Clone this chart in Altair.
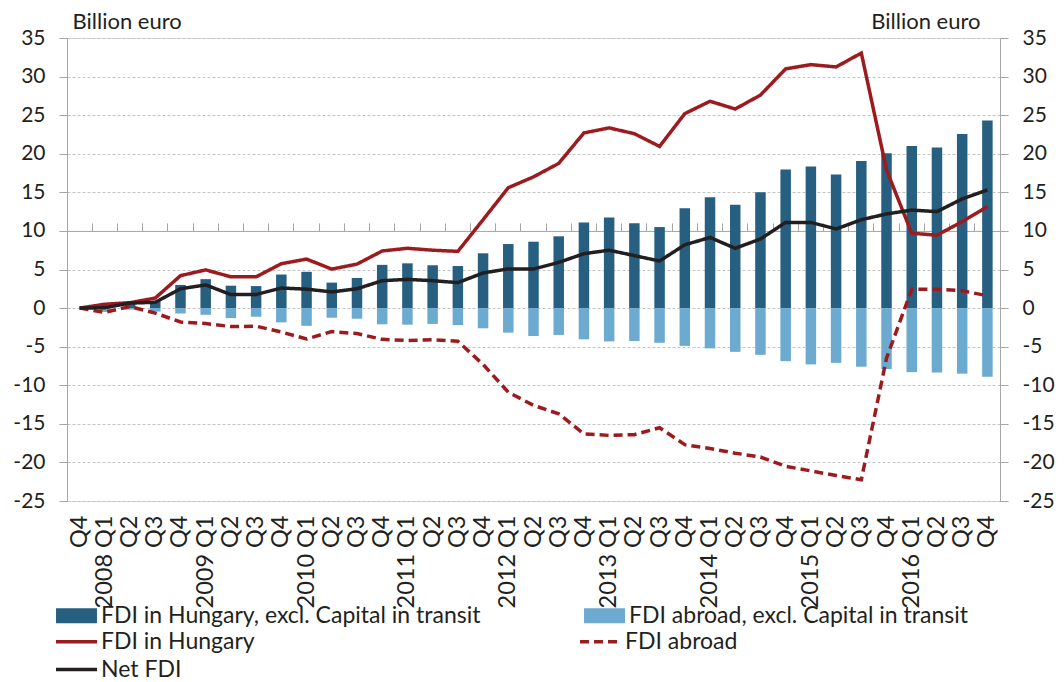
import altair as alt
import pandas as pd

FONT = "Lato"
TXT = "#231F20"
AX = "#A6A6A6"
DARK = "#265F80"
LIGHT = "#6DAACF"
RED = "#9C1B1F"
BLACK = "#231F20"

# categories: 2007 Q4 followed by 2008 Q1 ... 2016 Q4
years = [2008, 2009, 2010, 2011, 2012, 2013, 2014, 2015, 2016]
qs = ["Q1", "Q2", "Q3", "Q4"]
quarters = ["2007 Q4"] + [f"{y} {q}" for y in years for q in qs]

fdi_hu_excl = [0, 0.2, 0.6, 0.9, 3.0, 3.75, 2.9, 2.85, 4.35, 4.7, 3.3, 3.9, 5.6, 5.8, 5.55, 5.45,
               7.1, 8.3, 8.6, 9.3, 11.1, 11.75, 11.0, 10.5, 12.95, 14.35, 13.4, 15.0, 17.95, 18.35,
               17.3, 19.05, 20.05, 21.0, 20.8, 22.55, 24.3]
fdi_abroad_excl = [0, -0.5, -0.2, -0.45, -0.7, -0.87, -1.3, -1.12, -1.85, -2.3, -1.25, -1.38, -2.1,
                   -2.15, -2.05, -2.2, -2.62, -3.18, -3.62, -3.48, -4.05, -4.32, -4.26, -4.5, -4.9,
                   -5.22, -5.67, -6.06, -6.88, -7.3, -7.1, -7.6, -7.9, -8.3, -8.35, -8.5, -8.9]
fdi_hu = [0, 0.5, 0.7, 1.3, 4.2, 4.95, 4.05, 4.05, 5.75, 6.35, 5.05, 5.7, 7.4, 7.75, 7.5, 7.35,
          11.45, 15.6, 17.0, 18.75, 22.7, 23.35, 22.6, 20.95, 25.2, 26.8, 25.8, 27.6, 31.0, 31.55,
          31.25, 33.05, 17.9, 9.7, 9.45, 11.2, 13.15]
fdi_abroad = [0, -0.55, 0.2, -0.65, -1.8, -2.0, -2.4, -2.35, -3.1, -4.0, -3.05, -3.3, -4.05, -4.2,
              -4.1, -4.3, -7.3, -10.9, -12.6, -13.7, -16.3, -16.5, -16.4, -15.5, -17.7, -18.2,
              -18.8, -19.3, -20.5, -21.1, -21.7, -22.25, -6.5, 2.45, 2.45, 2.25, 1.6]
net_fdi = [0, 0.05, 0.65, 0.75, 2.5, 3.0, 1.75, 1.75, 2.6, 2.45, 2.1, 2.5, 3.55, 3.72, 3.55, 3.3,
           4.55, 5.08, 5.06, 5.92, 7.05, 7.5, 6.8, 6.1, 8.2, 9.15, 7.75, 8.95, 11.1, 11.1, 10.25,
           11.45, 12.2, 12.7, 12.5, 14.15, 15.3]

bar_names = ["FDI in Hungary, excl. Capital in transit", "FDI abroad, excl. Capital in transit"]
line_names = ["FDI in Hungary", "FDI abroad", "Net FDI"]

df_bars = pd.concat([
    pd.DataFrame({"key": quarters, "series": bar_names[0], "value": fdi_hu_excl}),
    pd.DataFrame({"key": quarters, "series": bar_names[1], "value": fdi_abroad_excl}),
])
df_lines = pd.concat([
    pd.DataFrame({"key": quarters, "series": line_names[0], "value": fdi_hu}),
    pd.DataFrame({"key": quarters, "series": line_names[1], "value": fdi_abroad}),
    pd.DataFrame({"key": quarters, "series": line_names[2], "value": net_fdi}),
])

W, H = 933, 463
x_scale = alt.Scale(paddingInner=0, paddingOuter=0)
y_scale = alt.Scale(domain=[-25, 35], nice=False, zero=False)
yvals = list(range(-25, 40, 5))

label_expr = ("indexof(datum.value, 'Q1') >= 0 ? slice(datum.value, 0, 4) + '  Q1' "
              ": slice(datum.value, 5)")
ylabel_expr = "datum.value < 0 ? '-' + abs(datum.value) : '' + datum.value"

common_y = dict(values=yvals, domainColor=AX, tickColor=AX, tickSize=8, labelFont=FONT,
                labelFontSize=21, labelColor=TXT, labelPadding=14, labelExpr=ylabel_expr,
                title="Billion euro", titleFont=FONT, titleFontSize=22,
                titleFontWeight="normal", titleColor=TXT, titleAngle=0,
                titleBaseline="bottom", titleY=-5)

leg_common = dict(orient="none", columns=2, direction="horizontal", title=None,
                  symbolSize=225, labelFont=FONT, labelFontSize=23, labelColor=TXT,
                  labelOffset=13, rowPadding=4, padding=0, labelLimit=0)

bars = alt.Chart(df_bars).mark_bar(size=10.5).encode(
    x=alt.X("key:N", sort=quarters, scale=x_scale,
            axis=alt.Axis(title=None, domain=False, ticks=False, labelAngle=270,
                          labelFont=FONT, labelFontSize=23.5, labelColor=TXT, labelPadding=14,
                          labelExpr=label_expr, labelOverlap=False)),
    y=alt.Y("value:Q", scale=y_scale, stack=None,
            axis=alt.Axis(orient="left", grid=True, gridColor="#C4C4C4", gridDash=[3, 2],
                          titleX=5, titleAlign="left", **common_y)),
    fill=alt.Fill("series:N", sort=bar_names,
                  scale=alt.Scale(domain=bar_names, range=[DARK, LIGHT]),
                  legend=alt.Legend(legendX=-2, legendY=566, columnPadding=103,
                                    symbolType="M-2.73,-1H2.73V1H-2.73Z",
                                    symbolStrokeWidth=0, **leg_common)),
)

lines = alt.Chart(df_lines).mark_line(strokeWidth=3.5).encode(
    x=alt.X("key:N", sort=quarters, scale=x_scale,
            axis=alt.Axis(title=None, labels=False, domain=True, domainColor=AX, ticks=True,
                          tickColor=AX, tickSize=8, bandPosition=0, offset=-H * 25 / 60,
                          grid=False)),
    y=alt.Y("value:Q", scale=y_scale,
            axis=alt.Axis(orient="right", grid=False, titleX=-20, titleAlign="right",
                          **common_y)),
    stroke=alt.Stroke("series:N", sort=line_names,
                      scale=alt.Scale(domain=line_names, range=[RED, RED, BLACK]),
                      legend=alt.Legend(legendX=-2, legendY=592, columnPadding=318,
                                        symbolType="M-2.73,0H2.73", symbolStrokeWidth=3.5,
                                        **leg_common)),
    strokeDash=alt.StrokeDash("series:N", sort=line_names,
                              scale=alt.Scale(domain=line_names,
                                              range=[[1, 0], [9, 5], [1, 0]])),
)

chart = alt.layer(bars, lines).resolve_scale(
    x="shared", y="shared"
).resolve_axis(
    x="independent", y="independent"
).properties(
    width=W, height=H,
    autosize=alt.AutoSizeParams(type="none"),
    padding={"left": 59, "top": 30, "right": 56, "bottom": 181},
).configure_view(stroke=None).configure(font=FONT)

chart.save("out.html", embed_options={"renderer": "svg", "actions": False})
